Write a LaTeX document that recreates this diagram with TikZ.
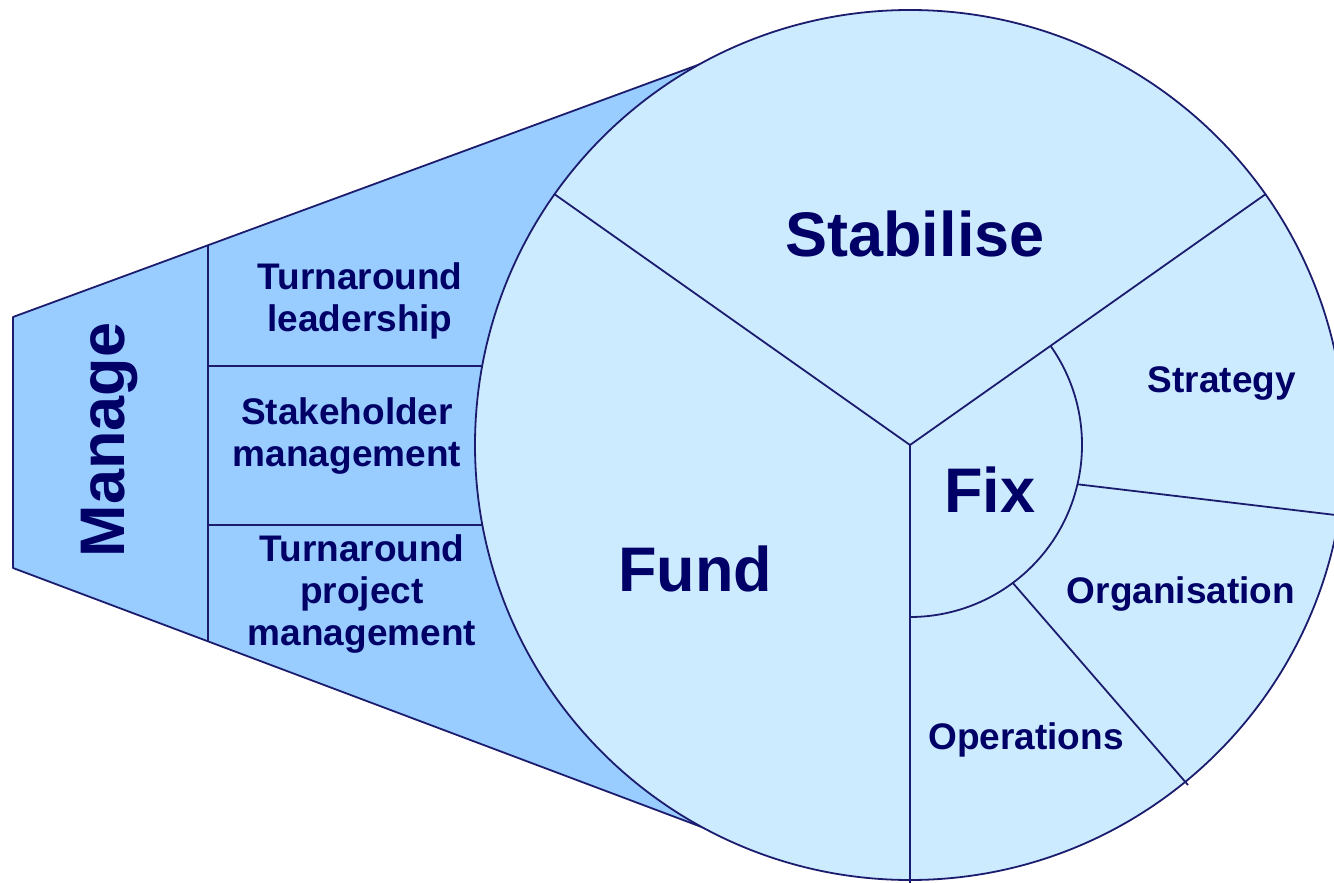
\documentclass[tikz,border=0pt]{standalone}
\usepackage{fontspec}
\setmainfont{Liberation Sans}
\usetikzlibrary{calc}
\definecolor{navy}{HTML}{000066}
\definecolor{edgecol}{HTML}{1C1C6E}
\definecolor{manfill}{HTML}{99CCFF}
\definecolor{circfill}{HTML}{CCEBFF}
\begin{document}
\begin{tikzpicture}[x=1pt,y=-1pt,line join=round,
  edgeline/.style={draw=edgecol,line width=1.8pt},
  big/.style={text=navy,font=\fontsize{63}{70}\selectfont\bfseries,inner sep=0pt},
  small/.style={text=navy,font=\fontsize{37}{42}\selectfont\bfseries,align=center,inner sep=0pt}]
\useasboundingbox (0,0) rectangle (1334,883);
\clip (0,0) rectangle (1334,883);
% Manage trapezoid
\coordinate (TL) at (13,317);
\coordinate (BL) at (13,568);
\coordinate (TR) at (800,27.4);
\coordinate (BR) at (800,864);
\filldraw[edgeline,fill=manfill] (TL) -- (TR) -- (BR) -- (BL) -- cycle;
\coordinate (VT) at ($(TL)!0.2478!(TR)$);
\coordinate (VB) at ($(BL)!0.2478!(BR)$);
\draw[edgeline] (VT) -- (VB);
\coordinate (H1a) at (208.3,365.7);
\coordinate (H1b) at (620,365.7);
\coordinate (H2a) at (208.3,525);
\coordinate (H2b) at (620,525);
\draw[edgeline] (H1a) -- (H1b);
\draw[edgeline] (H2a) -- (H2b);
% main circle
\coordinate (C) at (910,445);
\filldraw[edgeline,fill=circfill] (C) circle[radius=435];
% Y dividers
\draw[edgeline] (C) -- ($(C)+(-144.8:435)$);
\draw[edgeline] (C) -- ($(C)+(-35.2:435)$);
\draw[edgeline] (C) -- ($(C)+(90:440)$);
% Fix arc
\draw[edgeline] ($(C)+(-35.2:172)$) arc[start angle=-35.2,end angle=90,radius=172];
% Fix separators
\coordinate (S1a) at ($(C)+(13.2:172)$);
\coordinate (S1b) at (1344,516);
\coordinate (S2a) at ($(C)+(53.3:172)$);
\coordinate (S2b) at (1188,785);
\draw[edgeline] (S1a) -- (S1b);
\draw[edgeline] (S2a) -- (S2b);
% labels
\node[big,rotate=90] (manage) at (110,440) {Manage};
\node[small] (lead) at (360,301) {Turnaround\\leadership};
\node[small] (stake) at (347,436) {Stakeholder\\management};
\node[small] (proj) at (362,594) {Turnaround\\project\\management};
\node[big] (stab) at (915,234) {Stabilise};
\node[big] (fund) at (695,569) {Fund};
\node[big] (fix) at (990,490) {Fix};
\node[small] (strat) at (1222,383) {Strategy};
\node[small] (org) at (1181,594) {Organisation};
\node[small] (ops) at (1026,740) {Operations};
\end{tikzpicture}
\end{document}
